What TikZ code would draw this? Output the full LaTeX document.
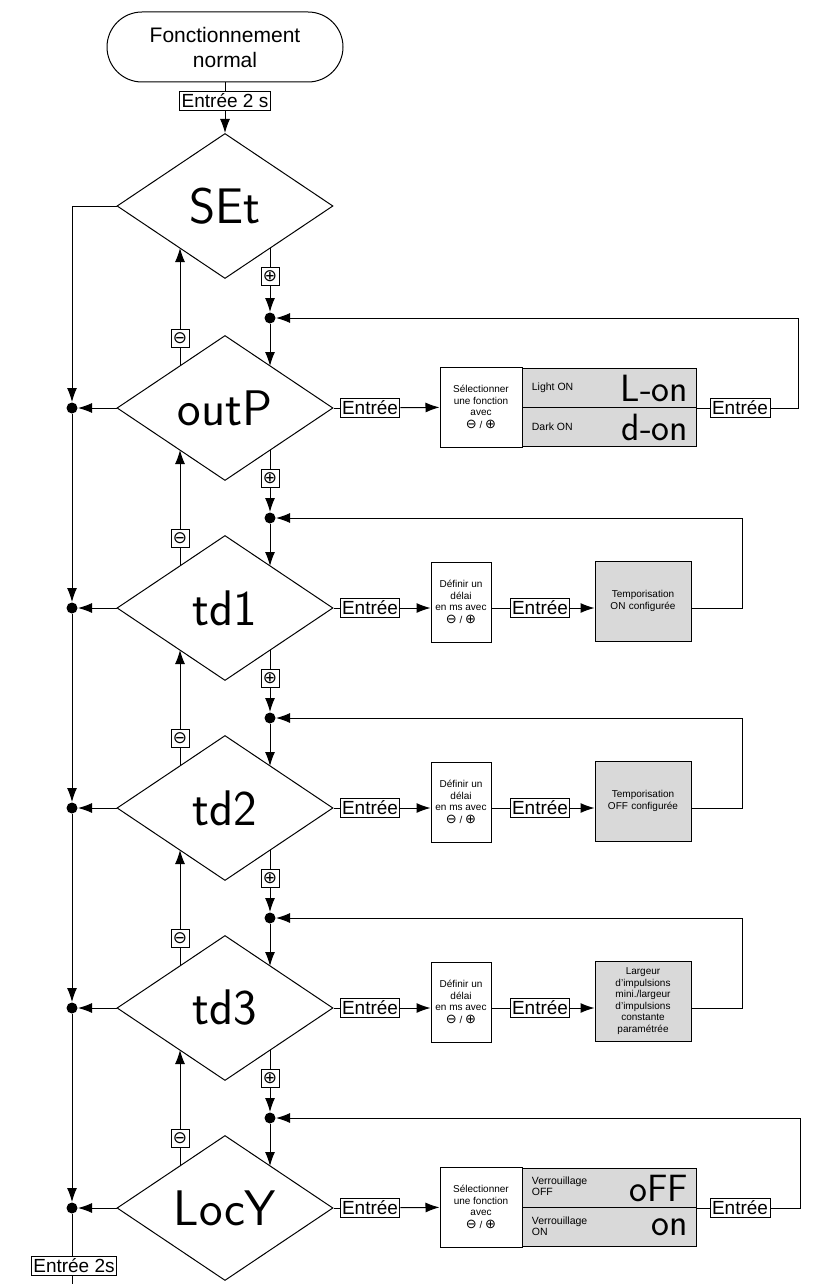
\documentclass[tikz,border=0pt]{standalone}
\usepackage{fontspec}
\setmainfont{Liberation Sans}
\newfontfamily\symf{DejaVu Sans}
\newcommand{\pmtf}{\symf\fontsize{17}{17}\selectfont}
\newcommand{\pmin}{\symf\fontsize{13}{13}\selectfont}
\usetikzlibrary{shapes.geometric,arrows.meta}
\begin{document}
\begin{tikzpicture}[x=1pt,y=-1pt,line width=1pt,
  arr/.style={-{Latex[length=14pt,width=10pt]}},
  dia/.style={draw,diamond,minimum width=216pt,minimum height=145pt,inner sep=0pt,font=\fontsize{50}{50}\selectfont\sffamily},
  ent/.style={draw,fill=white,inner sep=2pt,font=\fontsize{19}{19}\selectfont},
  pm/.style={draw,fill=white,inner sep=1pt,minimum size=18pt,font=\pmtf},
  dot/.style={circle,fill=black,inner sep=0pt,minimum size=11pt},
  sbox/.style={draw,align=center,inner sep=1pt,font=\fontsize{10}{11.5}\selectfont},
  gbox/.style={draw,fill=gray!30,align=center,inner sep=1pt,font=\fontsize{10}{11.5}\selectfont},
  cell/.style={draw,fill=gray!30,minimum width=174pt,minimum height=39pt,inner sep=0pt},
  small/.style={font=\fontsize{10.5}{11}\selectfont,align=left,anchor=west},
  lcd/.style={font=\fontsize{38}{38}\selectfont\sffamily,anchor=east}]
\useasboundingbox (0,0) rectangle (812,1284);
% start
\node[draw,rounded corners=35pt,minimum width=236pt,minimum height=70pt,align=center,font=\fontsize{21}{25}\selectfont] (start) at (225,47) {Fonctionnement\\normal};
\node[ent] (e2s) at (225,101) {Entrée 2 s};
\draw (start) -- (e2s);
% diamonds
\foreach \n/\y/\t in {1/206/SEt,2/408/outP,3/608/td1,4/808/td2,5/1008/td3,6/1208/LocY}{
  \node[dia] (d\n) at (225,\y) {\t};
}
\draw[arr] (e2s) -- (d1.north);
% vertical connections
\foreach \i/\cy/\ny [evaluate=\i as \k using int(\i+1)] in {1/206/408,2/408/608,3/608/808,4/808/1008,5/1008/1208}{
  \coordinate (a\i) at (270,\cy+42);
  \node[pm] (p\i) at (270,\cy+70) {⊕};
  \node[dot] (j\i) at (270,\ny-90) {};
  \coordinate (b\i) at (270,\ny-42);
  \draw (a\i) -- (p\i);
  \draw[arr] (p\i) -- (j\i);
  \draw[arr] (j\i) -- (b\i);
  \coordinate (c\i) at (180,\ny-42);
  \node[pm] (m\i) at (180,\ny-70) {⊖};
  \coordinate (u\i) at (180,\cy+42);
  \draw (c\i) -- (m\i);
  \draw[arr] (m\i) -- (u\i);
  \node[dot] (L\k) at (72,\ny) {};
  \draw[arr] (d\k.west) -- (L\k);
}
\coordinate (tl) at (72,206);
\draw[arr] (d1.west) -- (tl) -- (L2);
\draw[arr] (L2) -- (L3);
\draw[arr] (L3) -- (L4);
\draw[arr] (L4) -- (L5);
\draw[arr] (L5) -- (L6);
\node[ent] (e2sb) at (74,1266) {Entrée 2s};
\coordinate (bot) at (72,1284);
\draw (L6) -- (L6 |- e2sb.north);
\draw (L6 |- e2sb.south) -- (bot);
% row outP
\node[ent] (o1) at (370,408) {Entrée};
\draw (d2.east) -- (o1);
\node[sbox,minimum width=82pt,minimum height=80pt] (os) at (481,407) {Sélectionner\\une fonction\\avec\\[1pt]{\pmin ⊖} / {\pmin ⊕}};
\draw[arr] (o1) -- (os);
\node[cell,anchor=north west] (oc1) at (522,368) {};
\node[cell,anchor=north west] (oc2) at (522,407) {};
\node[small] (ot1) at (528,388) {Light ON};
\node[small] (ot2) at (528,427) {Dark ON};
\node[lcd] (ol1) at (692,388) {L-on};
\node[lcd] (ol2) at (692,427) {d-on};
\node[ent] (o2) at (740,408) {Entrée};
\draw (oc1.south east) -- (o2);
\coordinate (or) at (798,408);
\draw[arr] (o2) -- (or) |- (j1);
% td rows
\foreach \n/\y/\jj/\txt in {3/608/2/{Temporisation\\ON configurée},4/808/3/{Temporisation\\OFF configurée},5/1008/4/{Largeur\\d'impulsions\\mini./largeur\\d'impulsions\\constante\\paramétrée}}{
  \node[ent] (t\n a) at (370,\y) {Entrée};
  \draw (d\n.east) -- (t\n a);
  \node[sbox,minimum width=60pt,minimum height=80pt,inner sep=0pt] (t\n b) at (461,\y-6) {Définir un\\délai\\en ms avec\\[1pt]{\pmin ⊖} / {\pmin ⊕}};
  \draw[arr] (t\n a) -- (t\n b.west |- t\n a);
  \node[ent] (t\n c) at (540,\y) {Entrée};
  \draw (t\n b.east |- t\n c) -- (t\n c);
  \node[gbox,minimum width=96pt,minimum height=80pt,text width=90pt] (t\n d) at (643,\y-7) {\txt};
  \draw[arr] (t\n c) -- (t\n d.west |- t\n c);
  \coordinate (t\n r) at (742,\y);
  \draw[arr] (t\n d.east |- t\n c) -- (t\n r) |- (j\jj);
}
% row LocY
\node[ent] (k1) at (370,1208) {Entrée};
\draw (d6.east) -- (k1);
\node[sbox,minimum width=82pt,minimum height=80pt] (ks) at (481,1207) {Sélectionner\\une fonction\\avec\\[1pt]{\pmin ⊖} / {\pmin ⊕}};
\draw[arr] (k1) -- (ks);
\node[cell,anchor=north west] (kc1) at (522,1168) {};
\node[cell,anchor=north west] (kc2) at (522,1207) {};
\node[small] (kt1) at (528,1186) {Verrouillage\\OFF};
\node[small] (kt2) at (528,1226) {Verrouillage\\ON};
\node[lcd] (kl1) at (692,1188) {oFF};
\node[lcd] (kl2) at (692,1227) {on};
\node[ent] (k2) at (740,1208) {Entrée};
\draw (kc1.south east) -- (k2);
\coordinate (kr) at (800,1208);
\draw[arr] (k2) -- (kr) |- (j5);
\end{tikzpicture}
\end{document}
